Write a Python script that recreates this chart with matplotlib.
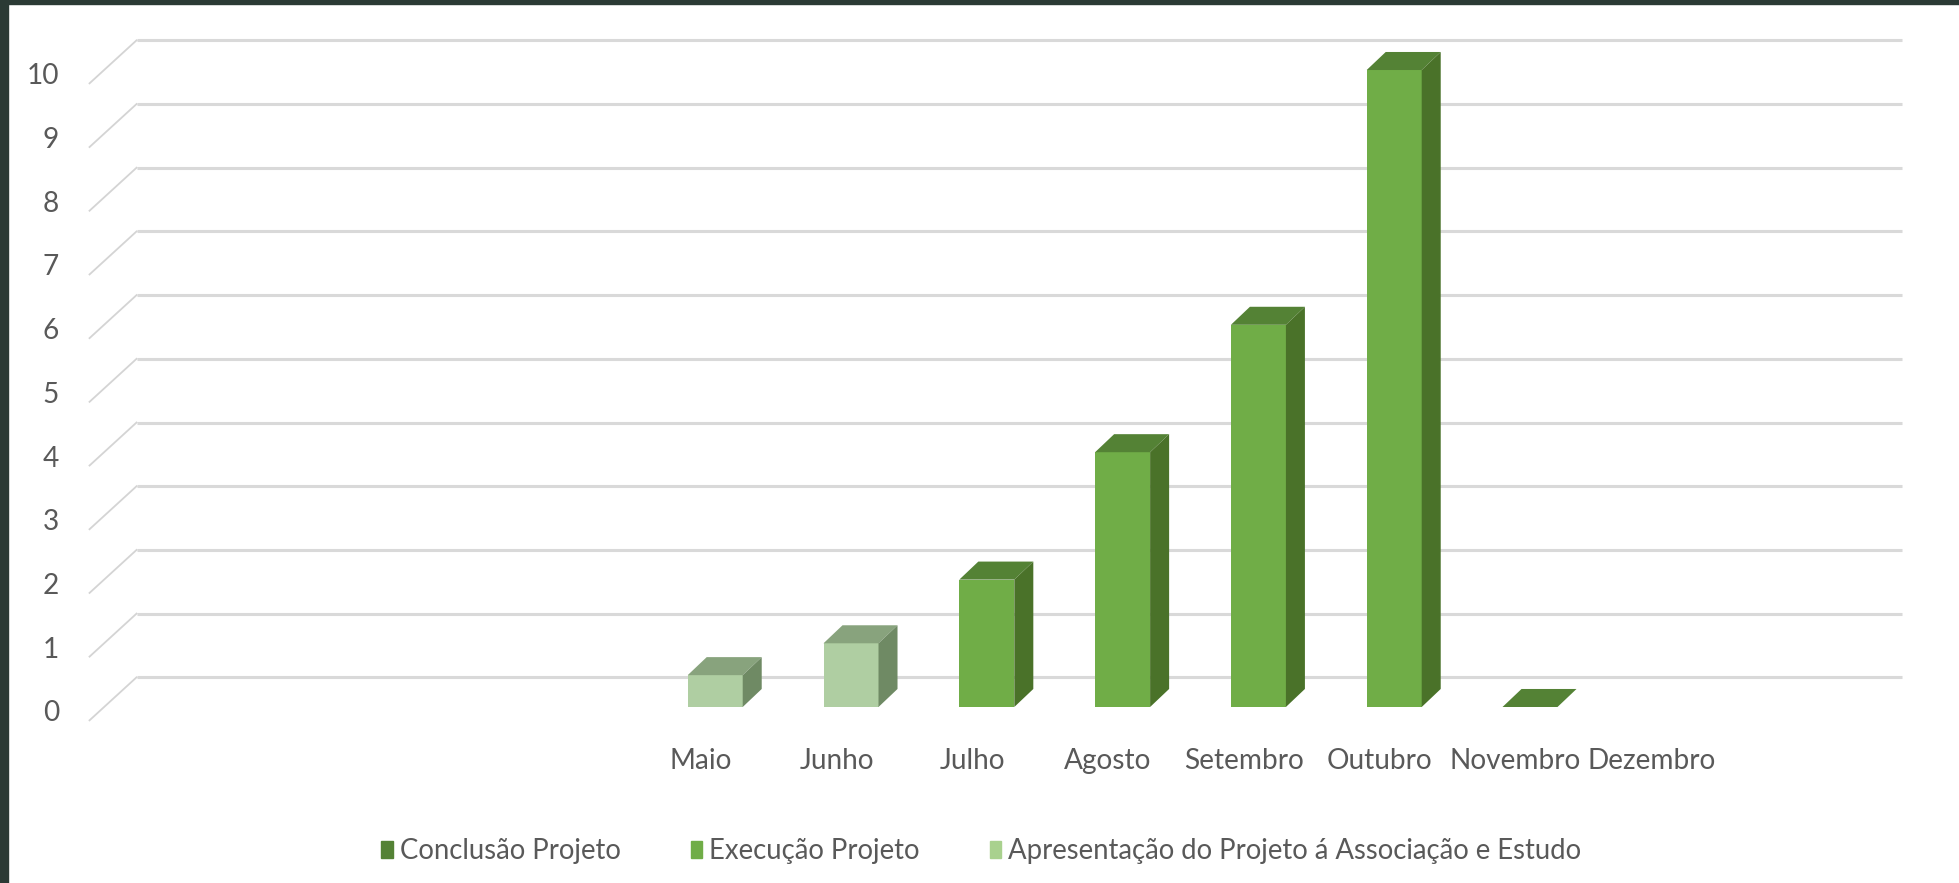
import numpy as np
import matplotlib.pyplot as plt
from matplotlib.patches import Polygon, Rectangle, Patch

# data (Jan-Apr and the last slot have no label in the source)
months = ['', '', '', '', 'Maio', 'Junho', 'Julho', 'Agosto', 'Setembro',
          'Outubro', 'Novembro', 'Dezembro', '']
nan = np.nan
apresentacao = [nan, nan, nan, nan, 0.5, 1, nan, nan, nan, nan, nan, nan, nan]
execucao = [nan, nan, nan, nan, nan, nan, 2, 4, 6, 10, nan, nan, nan]
conclusao = [nan, nan, nan, nan, nan, nan, nan, nan, nan, nan, 0, nan, nan]
yticks = list(range(0, 11))

series = [
    ('Conclusão Projeto', conclusao, '#548235', '#548235', '#466f2c', '#548235'),
    ('Execução Projeto', execucao, '#70ad47', '#548235', '#4a7229', '#70ad47'),
    ('Apresentação do Projeto á Associação e Estudo', apresentacao,
     '#afcea2', '#88a37d', '#6f8a64', '#a9d18e'),
]

FONT = ['Lato', 'DejaVu Sans']
FS = 20.2
TXT = '#595959'

W = 0.405                 # bar front width (category units)
BDX, BDY = 0.14, 0.283    # bar depth offset
FDX, FDY = 0.346, 0.675   # floor depth offset
F = 0.31                  # where the bars sit in the depth

fig = plt.figure(figsize=(19.59, 8.83), dpi=100)
ax = fig.add_axes([0, 0, 1, 1])
ax.set_xlim(-1.2666, 13.159)
ax.set_ylim(-2.763, 11.099)
ax.axis('off')

# frame of the screenshot
fig.patches.append(Rectangle((0, 0), 8 / 1959, 1, transform=fig.transFigure,
                             color='#2b3a35', zorder=10))
fig.patches.append(Rectangle((0, 1 - 4 / 883), 1, 4 / 883, transform=fig.transFigure,
                             color='#2b3a35', zorder=10))

front_x0 = -0.5 - F * FDX
back_x0 = front_x0 + FDX
back_x1 = back_x0 + len(months)
for v in yticks:
    yb = v + (1 - F) * FDY
    yf = v - F * FDY
    ax.plot([back_x0, back_x1], [yb, yb], color='#d9d9d9', lw=2.2, zorder=1,
            solid_capstyle='butt')
    ax.plot([front_x0, back_x0], [yf, yb], color='#d4d4d4', lw=1.3, zorder=1)
    ax.text(-0.832, v - 0.1, str(v), ha='right', va='center', fontsize=FS,
            family=FONT, color=TXT)

for i, m in enumerate(months):
    ax.text(i - F * FDX, -0.848, m, ha='center', va='center', fontsize=FS,
            family=FONT, color=TXT)

for label, vals, cfront, ctop, cside, clegend in series:
    for i, h in enumerate(vals):
        if np.isnan(h):
            continue
        ax.bar(i, h, width=W, bottom=0, color=cfront, zorder=3, linewidth=0)
        xl, xr = i - W / 2, i + W / 2
        top = [(xl, h), (xr, h), (xr + BDX, h + BDY), (xl + BDX, h + BDY)]
        ax.add_patch(Polygon(top, closed=True, color=ctop, zorder=3, lw=0))
        if h > 0:
            side = [(xr, 0), (xr + BDX, BDY), (xr + BDX, h + BDY), (xr, h)]
            ax.add_patch(Polygon(side, closed=True, color=cside, zorder=3, lw=0))

handles = [Patch(color=s[5], label=s[0]) for s in series]
fig.legend(handles=handles, loc='center', bbox_to_anchor=(0.501, 0.036), ncol=3,
           frameon=False, prop={'family': FONT, 'size': 19.8}, labelcolor=TXT,
           handlelength=0.42, handleheight=0.6, handletextpad=0.25,
           columnspacing=2.55)

fig.savefig('out.png', dpi=100, facecolor='white')
